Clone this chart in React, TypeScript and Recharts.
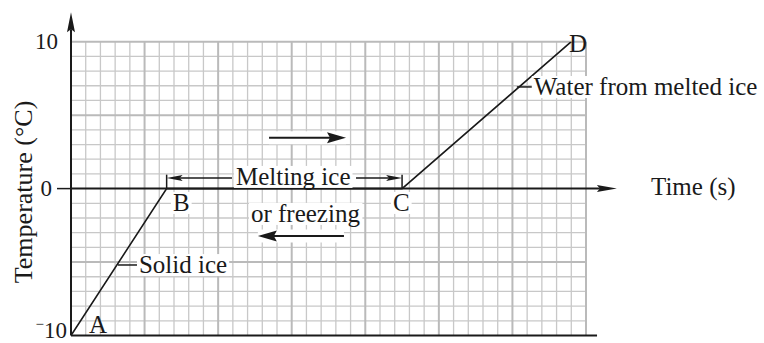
import { useLayoutEffect, useRef, useState } from 'react';
import { LineChart, Line, XAxis, YAxis, ReferenceLine, ReferenceDot } from 'recharts';

// heating curve of ice: A -> B -> C -> D
const times = [0, 6.5, 22.5, 34];
const temperatures = [-10, 0, 0, 10];
const pointNames = ['A', 'B', 'C', 'D'];

const yTickValues = [10, 0];
const yTickLabels = ['10', '0'];

const data = times.map((t, i) => ({ t, temp: temperatures[i], name: pointNames[i] }));

// graph paper: one small square per unit
const gridX = Array.from({ length: 36 }, (_, i) => i);
const gridY = Array.from({ length: 21 }, (_, i) => i - 10);

const FONT = '"Liberation Serif", "Times New Roman", serif';
const INK = '#1a1a1a';

type LabelProps = {
    cx: number;
    cy: number;
    text: string;
    size?: number;
    anchor?: 'start' | 'middle' | 'end';
    bg?: boolean;
};

function TextLabel({ cx, cy, text, size = 25, anchor = 'start', bg = true }: LabelProps) {
    const ref = useRef<SVGTextElement>(null);
    const [box, setBox] = useState<{ x: number; y: number; w: number; h: number } | null>(null);

    useLayoutEffect(() => {
        if (!ref.current) return;
        const b = ref.current.getBBox();
        setBox({ x: b.x, y: b.y, w: b.width, h: b.height });
    }, [cx, cy, text]);

    return (
        <g>
            {bg && box && <rect x={box.x - 2} y={box.y + 3} width={box.w + 4} height={box.h - 5} fill="#fff" />}
            <text ref={ref} x={cx} y={cy} textAnchor={anchor} fontFamily={FONT} fontSize={size} fill={INK}>
                {text}
            </text>
        </g>
    );
}

type ArrowOpts = { width: number; head?: boolean; len?: number; half?: number; halo?: boolean };

const arrowShape =
    ({ width, head = true, len = 18, half = 3.5, halo = false }: ArrowOpts) =>
    (p: any) => {
        const { x1, y1, x2, y2 } = p;
        const dx = x2 - x1;
        const dy = y2 - y1;
        const d = Math.hypot(dx, dy) || 1;
        const ux = dx / d;
        const uy = dy / d;
        const bx = x2 - ux * len;
        const by = y2 - uy * len;
        const pts = `${x2},${y2} ${bx - uy * half},${by + ux * half} ${bx + ux * 3},${by + uy * 3} ${bx + uy * half},${by - ux * half}`;
        return (
            <g>
                {halo && <line x1={x1} y1={y1} x2={x2} y2={y2} stroke="#fff" strokeWidth={half * 2 + 2} />}
                <line x1={x1} y1={y1} x2={head ? bx + ux * 3 : x2} y2={head ? by + uy * 3 : y2} stroke={INK} strokeWidth={width} />
                {head && <polygon points={pts} fill={INK} />}
            </g>
        );
    };

type Note = { x: number; y: number; text: string; size?: number; anchor?: 'start' | 'middle' | 'end'; bg?: boolean };

const notes: Note[] = [
    { x: 1.22, y: -9.83, text: 'A', bg: false },
    { x: 6.93, y: -1.52, text: 'B' },
    { x: 21.88, y: -1.52, text: 'C' },
    { x: 33.85, y: 9.3, text: 'D', bg: false },
    { x: 4.62, y: -5.75, text: 'Solid ice' },
    { x: 31.45, y: 6.37, text: 'Water from melted ice' },
    { x: 11.21, y: 0.25, text: 'Melting ice' },
    { x: 12.23, y: -2.27, text: 'or freezing' },
    { x: 39.42, y: -0.44, text: 'Time (s)', bg: false },
];

export default function App() {
    return (
        <div style={{ position: 'absolute', left: 0, top: 0, width: 764, height: 343, background: '#fff' }}>
            <LineChart width={764} height={343} data={data} margin={{ top: 41.7, right: 178, bottom: 7.5, left: 71 }}>
                <XAxis type="number" dataKey="t" domain={[0, 35]} hide allowDataOverflow />
                <YAxis type="number" domain={[-10, 10]} hide allowDataOverflow />

                {gridX.map((v) =>
                    v % 5 === 0 ? null : (
                        <ReferenceLine key={`vx${v}`} x={v} stroke="#c8c8c8" strokeWidth={1.3} ifOverflow="visible" />
                    ),
                )}
                {gridY.map((v) =>
                    v % 5 === 0 ? null : (
                        <ReferenceLine key={`hy${v}`} y={v} stroke="#c8c8c8" strokeWidth={1.3} ifOverflow="visible" />
                    ),
                )}
                {gridX.map((v) =>
                    v % 5 === 0 && v > 0 ? (
                        <ReferenceLine key={`VX${v}`} x={v} stroke="#bababa" strokeWidth={2} ifOverflow="visible" />
                    ) : null,
                )}
                {gridY.map((v) =>
                    v % 5 === 0 && v !== 0 && v !== -10 ? (
                        <ReferenceLine key={`HY${v}`} y={v} stroke="#bababa" strokeWidth={2} ifOverflow="visible" />
                    ) : null,
                )}

                {/* axes */}
                <ReferenceLine
                    segment={[{ x: 0, y: -10 }, { x: 35.75, y: -10 }]}
                    ifOverflow="visible"
                    shape={arrowShape({ width: 2, head: false })}
                />
                <ReferenceLine
                    segment={[{ x: 0, y: 0 }, { x: 37.1, y: 0 }]}
                    ifOverflow="visible"
                    shape={arrowShape({ width: 2, len: 20, half: 3.5 })}
                />
                <ReferenceLine
                    segment={[{ x: 0, y: -10 }, { x: 0, y: 12 }]}
                    ifOverflow="visible"
                    shape={arrowShape({ width: 2, len: 20, half: 4 })}
                />
                <ReferenceLine
                    segment={[{ x: -0.95, y: 0 }, { x: 0, y: 0 }]}
                    ifOverflow="visible"
                    shape={arrowShape({ width: 1.5, head: false })}
                />

                {/* direction arrows */}
                <ReferenceLine
                    segment={[{ x: 13.46, y: 3.47 }, { x: 18.69, y: 3.47 }]}
                    ifOverflow="visible"
                    shape={arrowShape({ width: 2, len: 19, half: 5.5, halo: true })}
                />
                <ReferenceLine
                    segment={[{ x: 18.55, y: -3.23 }, { x: 12.7, y: -3.23 }]}
                    ifOverflow="visible"
                    shape={arrowShape({ width: 2, len: 19, half: 5.5, halo: true })}
                />

                {/* melting range dimension */}
                <ReferenceLine
                    segment={[{ x: 10.94, y: 0.72 }, { x: 6.5, y: 0.72 }]}
                    ifOverflow="visible"
                    shape={arrowShape({ width: 1.5, len: 16, half: 3 })}
                />
                <ReferenceLine
                    segment={[{ x: 19.37, y: 0.72 }, { x: 22.5, y: 0.72 }]}
                    ifOverflow="visible"
                    shape={arrowShape({ width: 1.5, len: 16, half: 3 })}
                />
                <ReferenceLine
                    segment={[{ x: 6.5, y: 0 }, { x: 6.5, y: 0.95 }]}
                    ifOverflow="visible"
                    shape={arrowShape({ width: 1.5, head: false })}
                />
                <ReferenceLine
                    segment={[{ x: 22.5, y: 0 }, { x: 22.5, y: 0.95 }]}
                    ifOverflow="visible"
                    shape={arrowShape({ width: 1.5, head: false })}
                />

                {/* leaders */}
                <ReferenceLine
                    segment={[{ x: 3.19, y: -5.2 }, { x: 4.6, y: -5.2 }]}
                    ifOverflow="visible"
                    shape={arrowShape({ width: 1.5, head: false })}
                />
                <ReferenceLine
                    segment={[{ x: 30.3, y: 6.92 }, { x: 31.45, y: 6.92 }]}
                    ifOverflow="visible"
                    shape={arrowShape({ width: 1.5, head: false })}
                />

                <Line
                    type="linear"
                    dataKey="temp"
                    stroke={INK}
                    strokeWidth={1.6}
                    dot={false}
                    activeDot={false}
                    isAnimationActive={false}
                />

                {notes.map((n) => (
                    <ReferenceDot
                        key={n.text}
                        x={n.x}
                        y={n.y}
                        r={0}
                        ifOverflow="visible"
                        shape={(p: any) => (
                            <TextLabel cx={p.cx} cy={p.cy} text={n.text} size={n.size} anchor={n.anchor} bg={n.bg} />
                        )}
                    />
                ))}

                {yTickValues.map((v, i) => (
                    <ReferenceDot
                        key={`yt${v}`}
                        x={v === 0 ? -1.29 : -0.88}
                        y={v - 0.5}
                        r={0}
                        ifOverflow="visible"
                        shape={(p: any) => (
                            <TextLabel cx={p.cx} cy={p.cy} text={yTickLabels[i]} size={23} anchor="end" bg={false} />
                        )}
                    />
                ))}
                <ReferenceDot
                    x={-0.27}
                    y={-10.15}
                    r={0}
                    ifOverflow="visible"
                    shape={(p: any) => (
                        <text x={p.cx} y={p.cy} textAnchor="end" fontFamily={FONT} fontSize={23} fill={INK}>
                            <tspan fontSize={15} dy={-9}>
                                −
                            </tspan>
                            <tspan dy={9}>10</tspan>
                        </text>
                    )}
                />
                <ReferenceDot
                    x={-3.26}
                    y={-0.23}
                    r={0}
                    ifOverflow="visible"
                    shape={(p: any) => (
                        <text
                            x={p.cx}
                            y={p.cy}
                            transform={`rotate(-90 ${p.cx} ${p.cy})`}
                            textAnchor="middle"
                            dominantBaseline="central"
                            fontFamily={FONT}
                            fontSize={26}
                            fill={INK}
                        >
                            Temperature (°C)
                        </text>
                    )}
                />
            </LineChart>
        </div>
    );
}
